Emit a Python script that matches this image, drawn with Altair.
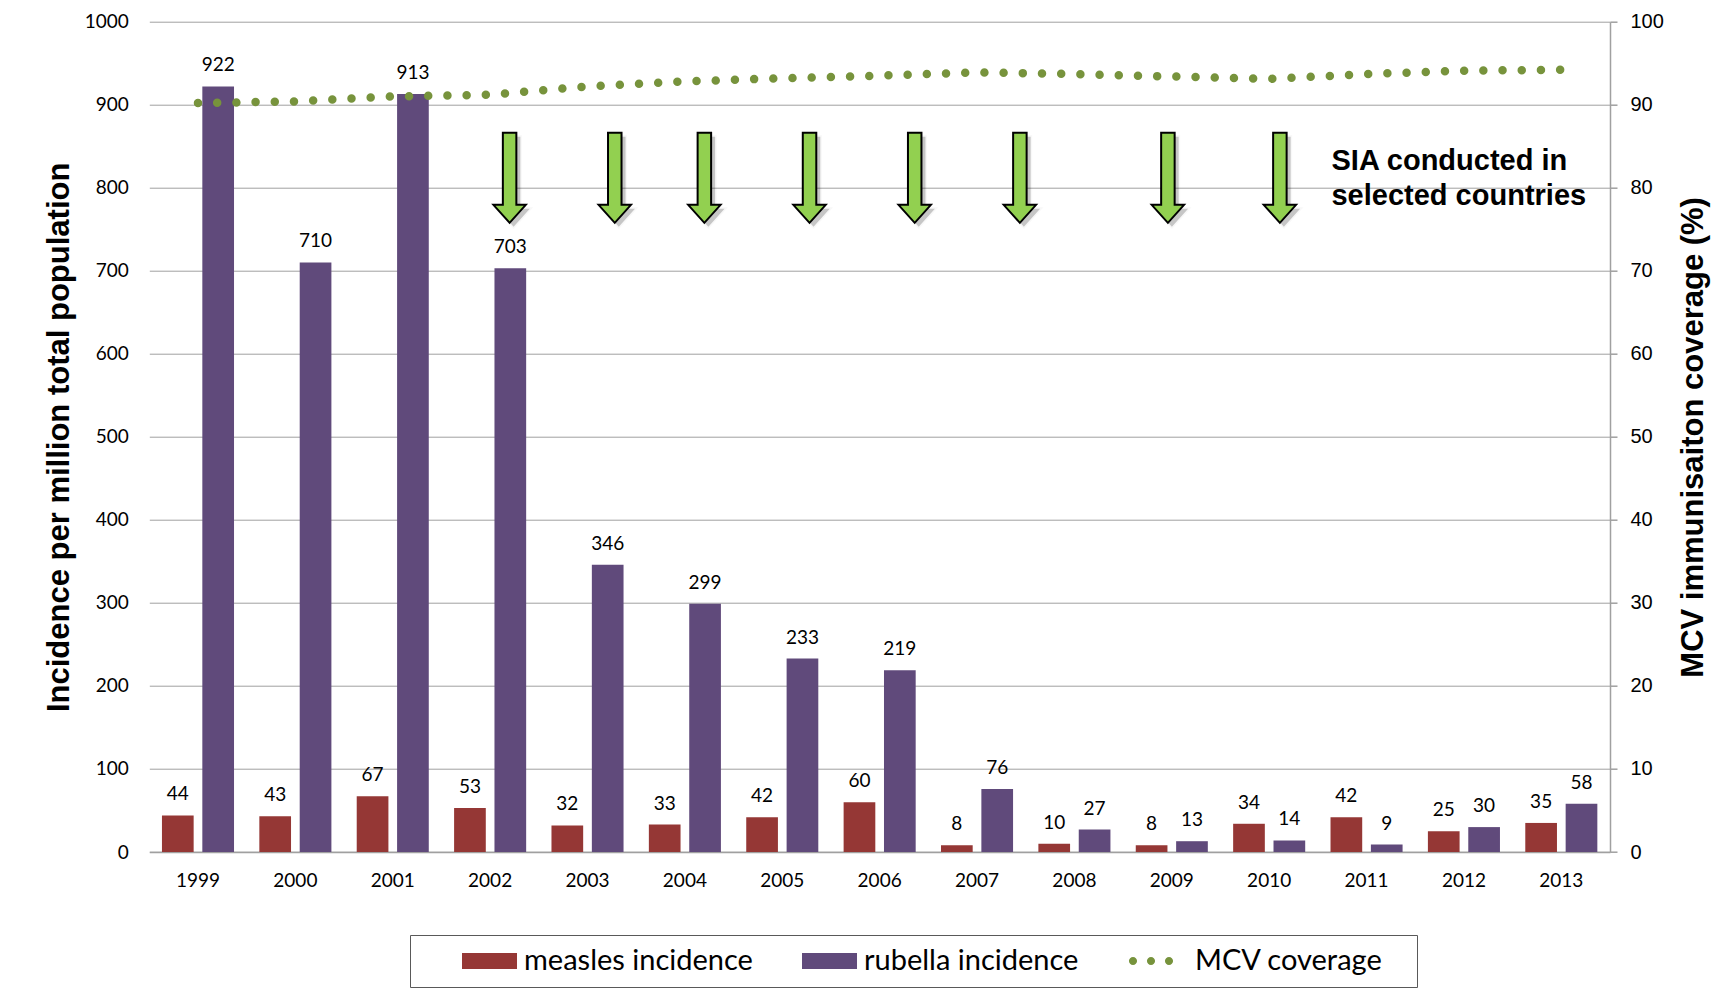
import altair as alt
import pandas as pd

# ---------------- data ----------------
years = [str(y) for y in range(1999, 2014)]
measles = [44, 43, 67, 53, 32, 33, 42, 60, 8, 10, 8, 34, 42, 25, 35]
rubella = [922, 710, 913, 703, 346, 299, 233, 219, 76, 27, 13, 14, 9, 30, 58]
coverage = [90.2, 90.4, 91.0, 91.2, 92.2, 92.8, 93.2, 93.5, 93.9, 93.7, 93.4, 93.1, 93.7, 94.1, 94.2]

series_names = ["measles incidence", "rubella incidence", "MCV coverage"]
series_colors = ["#953735", "#604A7B", "#77933C"]

# SIA campaigns (arrow positions read as fractional years) and annotation
sia_years = [2002.20, 2003.28, 2004.20, 2005.28, 2006.36, 2007.44, 2008.96, 2010.11]
sia_level = 812
note_lines = ["SIA conducted in", "selected countries"]
note_year = 2010.64
note_level = 832

bars_df = pd.DataFrame({
    "year": years * 2,
    "series": [series_names[0]] * len(years) + [series_names[1]] * len(years),
    "value": measles + rubella,
})
line_df = pd.DataFrame({"year": years, "coverage": coverage})
sia_df = pd.DataFrame({"sia_year": sia_years, "level": [sia_level] * len(sia_years)})
note_df = pd.DataFrame({"nx": [note_year], "ny": [note_level]})
legend_df = pd.DataFrame({"series": series_names})

# ---------------- layout ----------------
W = 1460.7
H = 830.3
GRID = "#A0A0A0"

x_band = alt.Scale(type="band", domain=years, paddingInner=0.26, paddingOuter=0.13)
x_point = alt.Scale(type="point", domain=years, padding=0.5)
xo_band = alt.Scale(type="band", domain=series_names[:2], paddingInner=0.215, paddingOuter=0)
xo_point = alt.Scale(type="point", domain=series_names[:2], padding=0.3925)
qx_scale = alt.Scale(domain=[1998.5, 2013.5], zero=False, nice=False)
y_left = alt.Scale(domain=[0, 1000], nice=False, zero=True)
y_right = alt.Scale(domain=[0, 100], nice=False, zero=True)

bars = alt.Chart(bars_df).mark_bar().encode(
    x=alt.X("year:O", scale=x_band, axis=alt.Axis(
        title=None, labelFont="Lato", labelFontSize=19, labelColor="#000000",
        labelAngle=0, domainColor=GRID, domainWidth=1.5, ticks=False, tickSize=0,
        labelPadding=19, grid=False)),
    xOffset=alt.XOffset("series:N", scale=xo_band),
    y=alt.Y("value:Q", scale=y_left, axis=alt.Axis(
        values=list(range(0, 1001, 100)), format="d",
        title="Incidence per million total population",
        titleFont="Liberation Sans", titleFontSize=31, titleFontWeight="bold",
        titleAngle=270, titleX=-81.3, titleY=H / 2, titleAlign="center",
        titleBaseline="alphabetic", titleColor="#000000",
        labelFont="Lato", labelFontSize=19, labelColor="#000000", labelPadding=21,
        domain=False, ticks=False, tickSize=0, grid=True, gridColor=GRID, gridWidth=1)),
    color=alt.Color("series:N", scale=alt.Scale(domain=series_names[:2], range=series_colors[:2]),
                    legend=None),
)

labels = alt.Chart(bars_df).mark_text(
    font="Lato", fontSize=19, color="#000000", baseline="alphabetic", dy=-15
).encode(
    x=alt.X("year:O", scale=x_band, axis=None),
    xOffset=alt.XOffset("series:N", scale=xo_point),
    y=alt.Y("value:Q", scale=y_left, axis=None),
    text=alt.Text("value:Q"),
)

line = alt.Chart(line_df).mark_line(
    color=series_colors[2], strokeWidth=8.5, strokeCap="round", strokeDash=[0, 19.2]
).encode(
    x=alt.X("year:O", scale=x_point, axis=None),
    y=alt.Y("coverage:Q", scale=y_right, axis=alt.Axis(
        orient="right", values=list(range(0, 101, 10)),
        title="MCV immunisaiton coverage (%)",
        titleFont="Liberation Sans", titleFontSize=31, titleFontWeight="bold",
        titleAngle=270, titleX=92, titleY=H / 2, titleAlign="center",
        titleBaseline="alphabetic", titleColor="#000000",
        labelFont="Liberation Sans", labelFontSize=20, labelColor="#000000",
        labelPadding=13, domain=True, domainColor=GRID, domainWidth=1.5,
        ticks=True, tickColor=GRID, tickSize=7, tickWidth=1.5, grid=False)),
)

arrow_path = ("M -0.15 -1 L 0.15 -1 L 0.15 0.6 L 0.36 0.6 L 0 1 "
              "L -0.36 0.6 L -0.15 0.6 Z")

shadow = alt.Chart(sia_df).mark_point(
    shape=arrow_path, size=8100, filled=True, fill="#000000", opacity=0.22,
    stroke="#000000", strokeWidth=3, strokeOpacity=0.12, xOffset=4, yOffset=4
).encode(
    x=alt.X("sia_year:Q", scale=qx_scale, axis=None),
    y=alt.Y("level:Q", scale=y_left, axis=None),
)

arrows = alt.Chart(sia_df).mark_point(
    shape=arrow_path, size=8100, filled=True, fill="#92D050", opacity=1,
    stroke="#000000", strokeWidth=2, strokeJoin="miter"
).encode(
    x=alt.X("sia_year:Q", scale=qx_scale, axis=None),
    y=alt.Y("level:Q", scale=y_left, axis=None),
)

note = alt.Chart(note_df).mark_text(
    text=note_lines, font="Liberation Sans", fontSize=29, fontWeight="bold",
    align="left", baseline="middle", lineHeight=35, color="#000000"
).encode(
    x=alt.X("nx:Q", scale=qx_scale, axis=None),
    y=alt.Y("ny:Q", scale=y_left, axis=None),
)

rect_path = "M -1 -0.53 L 2.667 -0.53 L 2.667 0.53 L -1 0.53 Z"
dots = ("M -1.27 0 a 0.27 0.27 0 1 0 0.54 0 a 0.27 0.27 0 1 0 -0.54 0 Z "
        "M -0.07 0 a 0.27 0.27 0 1 0 0.54 0 a 0.27 0.27 0 1 0 -0.54 0 Z "
        "M 1.13 0 a 0.27 0.27 0 1 0 0.54 0 a 0.27 0.27 0 1 0 -0.54 0 Z")

legend_def = alt.Legend(
    title="\u00a0", titleOrient="left", titleFontSize=1, titlePadding=41,
    orient="none", legendX=260.7, legendY=913.3, direction="horizontal",
    columns=3, padding=11, strokeColor="#595959", symbolSize=900, labelOffset=32,
    columnPadding=49, labelFont="Lato", labelFontSize=29, labelColor="#000000",
    labelLimit=600, symbolStrokeWidth=0, symbolOpacity=1,
    labelExpr=("datum.label == 'MCV coverage' ? "
               "datum.label + '\u00a0\u00a0\u00a0\u200b' : datum.label"),
)

legend_pts = alt.Chart(legend_df).mark_point(filled=True, opacity=0, size=900).encode(
    color=alt.Color("series:N", scale=alt.Scale(domain=series_names, range=series_colors),
                    legend=legend_def),
    shape=alt.Shape("series:N", scale=alt.Scale(domain=series_names, range=[rect_path, rect_path, dots]),
                    legend=legend_def),
)

chart = alt.layer(
    bars, labels, line, shadow, arrows, note, legend_pts
).resolve_scale(
    x="independent", y="independent", xOffset="independent",
    color="independent", shape="independent"
).properties(
    width=W, height=H,
    autosize=alt.AutoSizeParams(type="none"),
    padding={"left": 141.3, "top": 13.7, "right": 103, "bottom": 137},
).configure_view(strokeWidth=0)

chart.save("out.html", embed_options={"renderer": "svg", "actions": False})
